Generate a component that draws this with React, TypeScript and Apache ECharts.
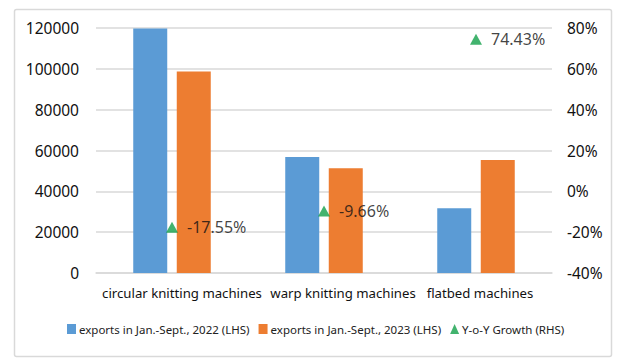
import React, { useEffect, useRef } from "react";
import * as echarts from "echarts";

const categories = ["circular knitting machines", "warp knitting machines", "flatbed machines"];
const exports2022 = [119700, 56800, 31700];
const exports2023 = [98700, 51300, 55300];
const yoyGrowth = [-17.55, -9.66, 74.43];
const seriesNames = [
  "exports in Jan.-Sept., 2022 (LHS)",
  "exports in Jan.-Sept., 2023 (LHS)",
  "Y-o-Y Growth (RHS)",
];

const FONT = "'Noto Sans', 'Open Sans', sans-serif";

export default function App() {
  const ref = useRef<HTMLDivElement>(null);
  useEffect(() => {
    if (!ref.current) return;
    const chart = echarts.init(ref.current, undefined, { renderer: "svg" });
    chart.setOption({
      animation: false,
      backgroundColor: "#ffffff",
      textStyle: { fontFamily: FONT },
      graphic: [
        {
          type: "rect",
          shape: { x: 14.5, y: 9.5, width: 597, height: 347, r: 2 },
          style: { fill: "none", stroke: "#d9d9d9", lineWidth: 1.5 },
          silent: true,
        },
      ],
      grid: { left: 96, right: 74, top: 28, bottom: 89, containLabel: false },
      legend: {
        bottom: 22,
        left: 62,
        itemGap: 9,
        itemWidth: 9,
        itemHeight: 10,
        textStyle: { fontSize: 11.5, color: "#222222", fontFamily: FONT, padding: [0, 0, 0, -2] },
        data: [
          { name: seriesNames[0], icon: "rect" },
          { name: seriesNames[1], icon: "rect" },
          { name: seriesNames[2], icon: "triangle", itemStyle: { color: "#13a04a" } },
        ],
      },
      xAxis: {
        type: "category",
        data: categories,
        axisLine: { lineStyle: { color: "#d9d9d9", width: 1.5 } },
        axisTick: { show: false },
        axisLabel: {
          fontSize: 13,
          color: "#111111",
          margin: 13,
          fontFamily: FONT,
          interval: 0,
          formatter: (v: string) => {
            const i = categories.indexOf(v);
            return "{c" + i + "|" + v + "}";
          },
          rich: {
            c0: { fontSize: 13.2, color: "#111111", fontFamily: FONT, padding: [0, 0, 0, 20] },
            c1: { fontSize: 13.2, color: "#111111", fontFamily: FONT, padding: [0, 0, 0, 38] },
            c2: { fontSize: 13.2, color: "#111111", fontFamily: FONT, padding: [0, 0, 0, 8] },
          },
        },
      },
      yAxis: [
        {
          type: "value",
          min: 0,
          max: 120000,
          interval: 20000,
          axisLine: { show: false },
          axisTick: { show: false },
          splitLine: { lineStyle: { color: "#d9d9d9", width: 1.5 } },
          axisLabel: {
            fontSize: 15.5,
            color: "#111111",
            margin: 17,
            fontFamily: FONT,
            formatter: (v: number) => String(v),
          },
        },
        {
          type: "value",
          min: -40,
          max: 80,
          interval: 20,
          axisLine: { show: false },
          axisTick: { show: false },
          splitLine: { show: false },
          axisLabel: {
            fontSize: 15.5,
            color: "#111111",
            margin: 15,
            fontFamily: FONT,
            formatter: "{value}%",
          },
        },
      ],
      series: [
        {
          name: seriesNames[0],
          type: "bar",
          data: exports2022,
          barWidth: 34,
          barGap: "28%",
          itemStyle: { color: "#5b9bd5" },
        },
        {
          name: seriesNames[1],
          type: "bar",
          data: exports2023,
          barWidth: 34,
          itemStyle: { color: "#ed7d31" },
        },
        {
          name: seriesNames[2],
          type: "scatter",
          yAxisIndex: 1,
          data: yoyGrowth,
          symbol: "triangle",
          symbolSize: [12, 11],
          itemStyle: { color: "#13a04a" },
          label: {
            show: true,
            position: "right",
            distance: 9,
            fontSize: 16,
            color: "#111111",
            fontFamily: FONT,
            formatter: (p: any) => p.value.toFixed(2) + "%",
          },
          z: 5,
        },
      ],
    });
    return () => chart.dispose();
  }, []);
  return (
    <div
      ref={ref}
      style={{ position: "fixed", left: 0, top: 0, width: 626, height: 362 }}
    />
  );
}
